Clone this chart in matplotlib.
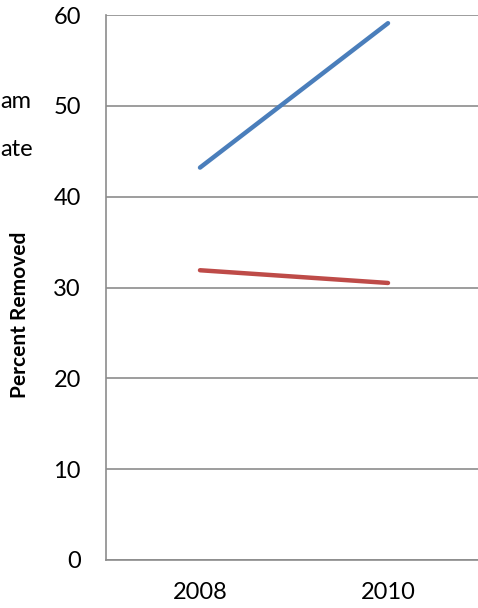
import matplotlib.pyplot as plt

years = ["2008", "2010"]
series_blue = [43.2, 59.1]
series_red = [31.9, 30.5]
legend_frags = ["am", "ate"]
y_ticks = [0, 10, 20, 30, 40, 50, 60]

plt.rcParams['font.family'] = ['Lato', 'DejaVu Sans']

W, H = 478, 608
fig = plt.figure(figsize=(W / 100, H / 100), dpi=100)
# axes spans a bit beyond the right edge, as in the cropped original
ax = fig.add_axes([106 / W, 1 - 560 / H, 376 / W, 545 / H])

x = range(len(years))
ax.plot(x, series_blue, color="#4A7EBB", lw=3.2, solid_capstyle="round")
ax.plot(x, series_red, color="#BE4B48", lw=3.2, solid_capstyle="round")

ax.set_xlim(-0.5, 1.5)
ax.set_ylim(0, 60)
ax.set_yticks(y_ticks)
ax.set_xticks(list(x))
ax.set_xticklabels(years)
ax.yaxis.grid(True, color="#8C8C8C", lw=1.2)
ax.set_axisbelow(True)
ax.tick_params(axis="both", length=0, labelsize=17)
ax.tick_params(axis="y", pad=18)
ax.tick_params(axis="x", pad=16)
for side in ["top", "right"]:
    ax.spines[side].set_visible(False)
for side in ["left", "bottom"]:
    ax.spines[side].set_color("#8C8C8C")
    ax.spines[side].set_linewidth(1.2)

# y label sits lower than the axes centre in the original
fig.text(20 / W, 1 - 315 / H, "Percent Removed", fontsize=15, fontweight="bold",
         rotation=90, ha="center", va="center")

# clipped legend entries at the left edge
fig.text(0, 1 - 102 / H, legend_frags[0], fontsize=17, va="center", ha="left")
fig.text(0, 1 - 150 / H, legend_frags[1], fontsize=17, va="center", ha="left")

fig.savefig("out.png", dpi=100)
